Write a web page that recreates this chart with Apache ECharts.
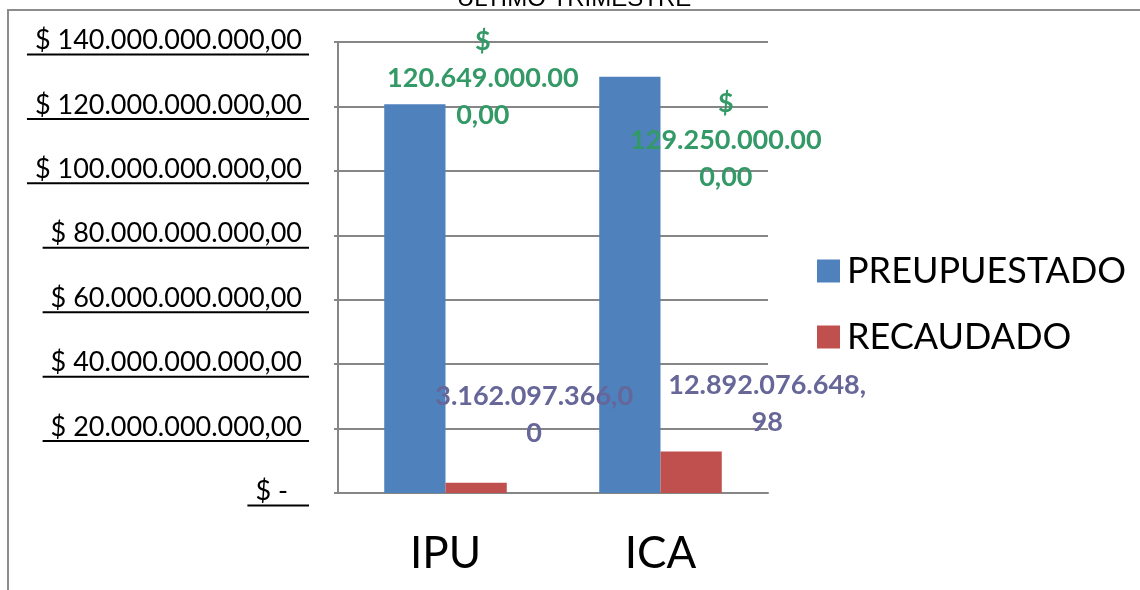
<!DOCTYPE html>
<html>
<head>
<meta charset="utf-8">
<script src="https://cdn.jsdelivr.net/npm/echarts@6/dist/echarts.min.js"></script>
<style>
  html, body { margin: 0; padding: 0; background: #fff; }
  #chart { width: 1140px; height: 590px; }
</style>
</head>
<body>
<div id="chart"></div>
<script>
var categories = ['IPU', 'ICA'];
var presupuestado = [120649000000, 129250000000];
var recaudado = [3162097366, 12892076648.98];
var yTicks = ['$ -', '$ 20.000.000.000,00', '$ 40.000.000.000,00', '$ 60.000.000.000,00',
    '$ 80.000.000.000,00', '$ 100.000.000.000,00', '$ 120.000.000.000,00', '$ 140.000.000.000,00'];
var step = 20000000000;

var FONT = 'Lato';

function fmtMoney(v) {
    var p = v.toFixed(2).split('.');
    return p[0].replace(/\B(?=(\d{3})+(?!\d))/g, '.') + ',' + p[1];
}
// excel wrapped the labels inside a narrow box
function wrapLabel(s, n) {
    var out = [];
    for (var i = 0; i < s.length; i += n) out.push(s.slice(i, i + n));
    return out.join('\n');
}

// underline widths for the y labels
var ctx = document.createElement('canvas').getContext('2d');
ctx.font = '27px ' + FONT;
var rich = { s: { lineHeight: 1, fontSize: 1 } };
yTicks.forEach(function (t, i) {
    var extra = i === 0 ? 14 : 0;
    rich['t' + i] = { fontFamily: FONT, fontSize: 27, color: '#000', lineHeight: 24, padding: [0, 7 + extra, 0, 0] };
    rich['u' + i] = { width: ctx.measureText(t).width + 15 + extra, height: 2, backgroundColor: '#000', lineHeight: 2 };
});

// label offsets
var presOffsets = [[68, 34], [96, 124]];
var recOffsets = [[58, -26], [76, -6]];

var chart = echarts.init(document.getElementById('chart'));
var option = {
    animation: false,
    title: {
        text: 'ÚLTIMO TRIMESTRE',
        left: 452,
        top: -18,
        textStyle: { fontFamily: 'Liberation Sans', fontSize: 24, fontWeight: 'normal', color: '#000' }
    },
    graphic: [{
        type: 'rect',
        shape: { x: 8, y: 10, width: 1150, height: 600 },
        style: { fill: 'none', stroke: '#8c8c8c', lineWidth: 2 }
    }],
    legend: {
        orient: 'vertical',
        left: 812,
        top: 248,
        itemWidth: 23,
        itemHeight: 23,
        itemGap: 30,
        icon: 'rect',
        textStyle: { fontFamily: FONT, fontSize: 36, color: '#000', padding: [0, 0, 0, 2] },
        data: ['PREUPUESTADO', 'RECAUDADO']
    },
    grid: { left: 338, right: 372, top: 42, bottom: 97 },
    xAxis: {
        type: 'category',
        data: categories,
        axisLine: { lineStyle: { color: '#868686', width: 2 } },
        axisTick: { show: false },
        axisLabel: { fontFamily: FONT, fontSize: 44, color: '#000', margin: 39 }
    },
    yAxis: {
        type: 'value',
        min: 0,
        max: 140000000000,
        interval: step,
        axisLine: { show: true, lineStyle: { color: '#868686', width: 2 } },
        axisTick: { show: true, length: 4, lineStyle: { color: '#868686', width: 2 } },
        splitLine: { lineStyle: { color: '#868686', width: 2 } },
        axisLabel: {
            margin: 29,
            formatter: function (v) {
                var i = Math.round(v / step);
                return '{t' + i + '|' + yTicks[i] + '}\n{s| }\n{u' + i + '| }';
            },
            rich: rich
        }
    },
    series: [{
        name: 'PREUPUESTADO',
        type: 'bar',
        barGap: 0,
        barCategoryGap: '43%',
        itemStyle: { color: '#4F81BD' },
        data: presupuestado.map(function (v, i) {
            return {
                value: v,
                label: {
                    show: true,
                    position: 'top',
                    offset: presOffsets[i],
                    formatter: '$\n' + wrapLabel(fmtMoney(v), 14),
                    fontFamily: FONT,
                    fontWeight: 'bold',
                    fontSize: 27,
                    lineHeight: 37,
                    color: '#339966'
                }
            };
        })
    }, {
        name: 'RECAUDADO',
        type: 'bar',
        itemStyle: { color: '#C0504D' },
        data: recaudado.map(function (v, i) {
            return {
                value: v,
                label: {
                    show: true,
                    position: 'top',
                    offset: recOffsets[i],
                    formatter: wrapLabel(fmtMoney(v), 15),
                    fontFamily: FONT,
                    fontWeight: 'bold',
                    fontSize: 27,
                    lineHeight: 37,
                    color: '#666699'
                }
            };
        })
    }]
};
chart.setOption(option);
</script>
</body>
</html>
